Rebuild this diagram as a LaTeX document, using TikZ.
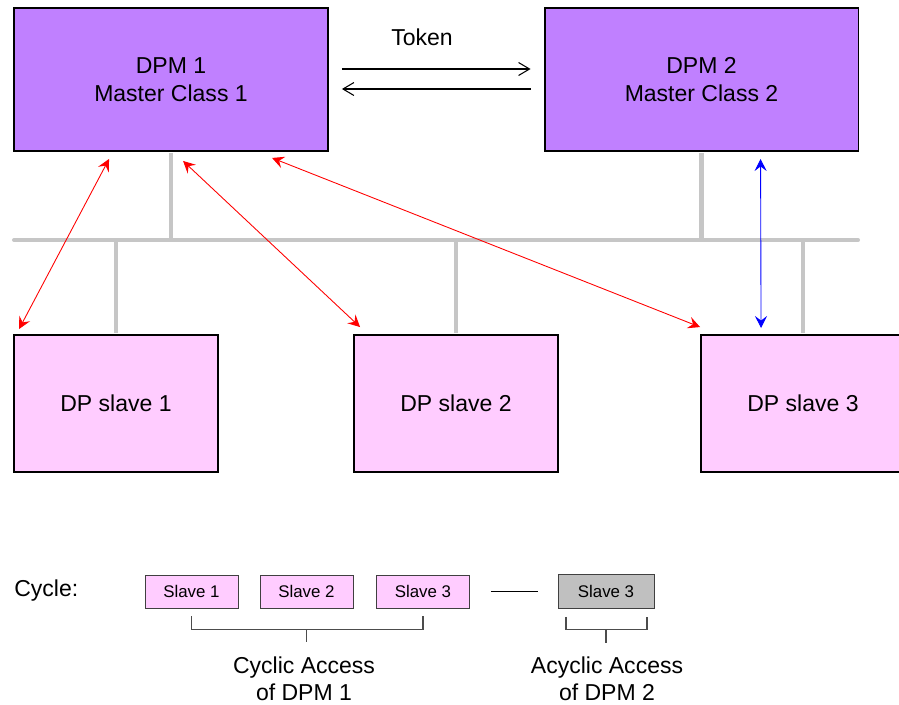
\documentclass[tikz,border=0pt]{standalone}
\usepackage{fontspec}
\setmainfont{Liberation Sans}
\usetikzlibrary{arrows.meta}
\definecolor{masterfill}{HTML}{C080FF}
\definecolor{slavefill}{HTML}{FFCCFF}
\definecolor{busgray}{HTML}{C6C6C6}
\definecolor{boxgray}{HTML}{C0C0C0}
\begin{document}
\begin{tikzpicture}[x=0.02cm,y=-0.02cm,
		big/.style={font=\fontsize{13.1}{15.6}\selectfont},
		small/.style={font=\fontsize{9.6}{11}\selectfont},
		master/.style={big,draw,line width=1.1pt,fill=masterfill,minimum width=6.28cm,minimum height=2.86cm,align=center,inner sep=0},
		slave/.style={big,draw,line width=1.1pt,fill=slavefill,minimum width=4.08cm,minimum height=2.74cm,inner sep=0},
		cyc/.style={small,draw=black!75,line width=0.5pt,fill=slavefill,minimum width=1.86cm,minimum height=0.66cm,inner sep=0},
		bus/.style={busgray,line width=2.3pt},
		req/.style={red,line width=0.5pt,{Stealth[length=0.24cm,width=0.24cm,inset=0.09cm]}-{Stealth[length=0.24cm,width=0.24cm,inset=0.09cm]}},
		tok/.style={line width=0.6pt,-{Straight Barb[length=0.22cm,width=0.26cm]}},
		brk/.style={black!70,line width=0.6pt}]
		\clip (0,0) rectangle (899,704);
		\node[master] (dpm1) at (171,79.5) {DPM 1\\Master Class 1};
		\node[master] (dpm2) at (701.5,79.5) {DPM 2\\Master Class 2};
		\node[slave] (sl1) at (116,403.5) {DP slave 1};
		\node[slave] (sl2) at (456,403.5) {DP slave 2};
		\node[slave] (sl3) at (803,403.5) {DP slave 3};
		\node[big] (toklbl) at (422,37) {Token};
		\draw[tok] ([shift={(13,-10.5)}]dpm1.east) -- ([shift={(-13,-10.5)}]dpm2.west);
		\draw[tok] ([shift={(-13,9.5)}]dpm2.west) -- ([shift={(13,9.5)}]dpm1.east);
		% bus
		\coordinate (busL) at (14,240);
		\coordinate (busR) at (858,240);
		\draw[bus,line cap=round] (busL) -- (busR);
		\foreach \n in {dpm1,dpm2}
			\draw[bus,shorten <=0.55pt] (\n.south) -- (\n.south |- busL);
		\foreach \n in {sl1,sl2,sl3}
			\draw[bus,shorten <=0.55pt] (\n.north) -- (\n.north |- busL);
		% data exchange
		\draw[req] ([shift={(96,7)}]dpm1.south west) -- ([shift={(6,-5)}]sl1.north west);
		\draw[req] ([shift={(170,9)}]dpm1.south west) -- ([shift={(7,-7)}]sl2.north west);
		\draw[req] ([shift={(259,6)}]dpm1.south west) -- ([shift={(0,-7)}]sl3.north west);
		\draw[req,blue] ([shift={(217,7)}]dpm2.south west) -- ([shift={(61,-6)}]sl3.north west);
		% cycle
		\node[big,anchor=west,inner sep=0] (cyclbl) at (14,591) {Cycle:};
		\node[cyc] (c1) at (191.5,591.5) {Slave 1};
		\node[cyc] (c2) at (306.5,591.5) {Slave 2};
		\node[cyc] (c3) at (423,591.5) {Slave 3};
		\node[cyc,fill=boxgray,minimum width=1.92cm,minimum height=0.68cm] (g3) at (606,591.5) {Slave 3};
		\draw[line width=0.6pt] ([shift={(21,0)}]c3.east) -- ([shift={(-20,0)}]g3.west);
		\draw[brk] ([shift={(0,8)}]c1.south) -- ++(0,13) -| ([shift={(0,8)}]c3.south);
		\draw[brk] ([shift={(0,21)}]c2.south) -- ++(0,13);
		\draw[brk] ([shift={(-40,8)}]g3.south) -- ++(0,13) -| ([shift={(41,8)}]g3.south);
		\draw[brk] ([shift={(0,21)}]g3.south) -- ++(0,13);
		\node[big,align=center] (cyctxt) at (304,679) {Cyclic Access\\of DPM 1};
		\node[big,align=center] (acytxt) at (607,679) {Acyclic Access\\of DPM 2};
	\end{tikzpicture}
\end{document}
